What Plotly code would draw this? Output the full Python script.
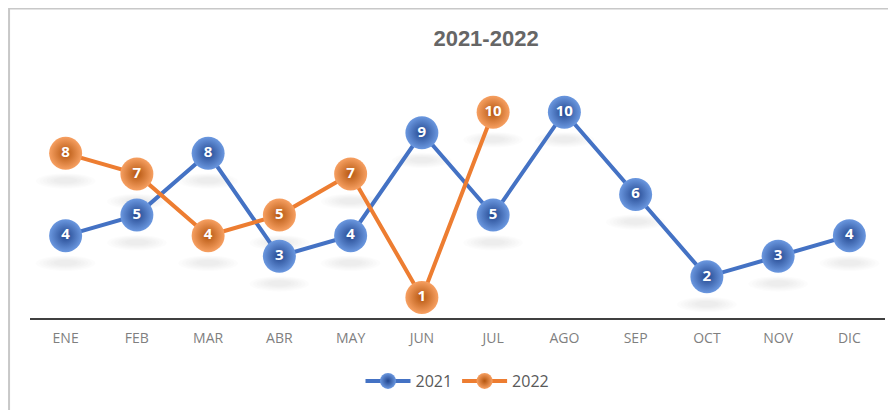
import plotly.graph_objects as go

months = ["ENE", "FEB", "MAR", "ABR", "MAY", "JUN", "JUL", "AGO", "SEP", "OCT", "NOV", "DIC"]
v2021 = [4, 5, 8, 3, 4, 9, 5, 10, 6, 2, 3, 4]
v2022 = [8, 7, 4, 5, 7, 1, 10]
months2022 = months[:len(v2022)]

fig = go.Figure()

def add_series(name, x, y, line_color, center, edge):
    fig.add_trace(go.Scatter(
        x=x, y=y, name=name, mode="lines+markers+text",
        line=dict(color=line_color, width=4),
        marker=dict(size=33, color=center, line=dict(width=0),
                    gradient=dict(type="radial", color=edge)),
        text=[str(v) for v in y], texttemplate="<b>%{text}</b>", textposition="middle center",
        textfont=dict(color="white", size=15, family="Open Sans"),
        cliponaxis=False,
    ))

add_series("2021", months, v2021, "#4472C4", "#6b98e0", "#23478f")
add_series("2022", months2022, v2022, "#ED7D31", "#f7a062", "#b5560f")

# soft drop shadows under markers, derived from the data
shapes = []
for series in (v2021, v2022):
    for i, v in enumerate(series):
        for k in range(6):
            dx = 0.42 - k * 0.05
            dy = 0.42 - k * 0.05
            shapes.append(dict(type="circle", xref="x", yref="y", layer="below",
                               x0=i - dx, x1=i + dx, y0=v - 1.3 - dy, y1=v - 1.3 + dy * 0.8,
                               fillcolor="rgba(0,0,0,0.013)", line=dict(width=0)))

# chart border (left and top only)
shapes.append(dict(type="line", xref="paper", yref="paper", x0=-0.0245, x1=-0.0245, y0=-0.42, y1=1.26,
                   line=dict(color="#c8c8c8", width=2)))
shapes.append(dict(type="line", xref="paper", yref="paper", x0=-0.0245, x1=1.1, y0=1.253, y1=1.253,
                   line=dict(color="#c8c8c8", width=2)))

fig.update_layout(
    width=896, height=410,
    margin=dict(l=22, r=19, t=63, b=100),
    paper_bgcolor="white", plot_bgcolor="white",
    title=dict(text="<b>2021-2022</b>", x=0.5335, xanchor="center", y=0.926, yanchor="middle",
               font=dict(size=22, color="#666666", family="Liberation Sans")),
    xaxis=dict(type="category", categoryorder="array", categoryarray=months,
               range=[-0.5, 11.5], showgrid=False, showline=True, linecolor="#404040", linewidth=2,
               ticks="", tickfont=dict(size=14, color="#7f7f7f", family="Open Sans"), ticklabelstandoff=6),
    yaxis=dict(range=[0, 12], showgrid=False, showticklabels=False, zeroline=False, showline=False),
    legend=dict(orientation="h", x=0.5, xanchor="center", y=-0.255, yanchor="middle",
                font=dict(size=16, color="#595959", family="Open Sans"), itemwidth=45),
    showlegend=True,
    shapes=shapes,
)

fig.write_html("out.html")
